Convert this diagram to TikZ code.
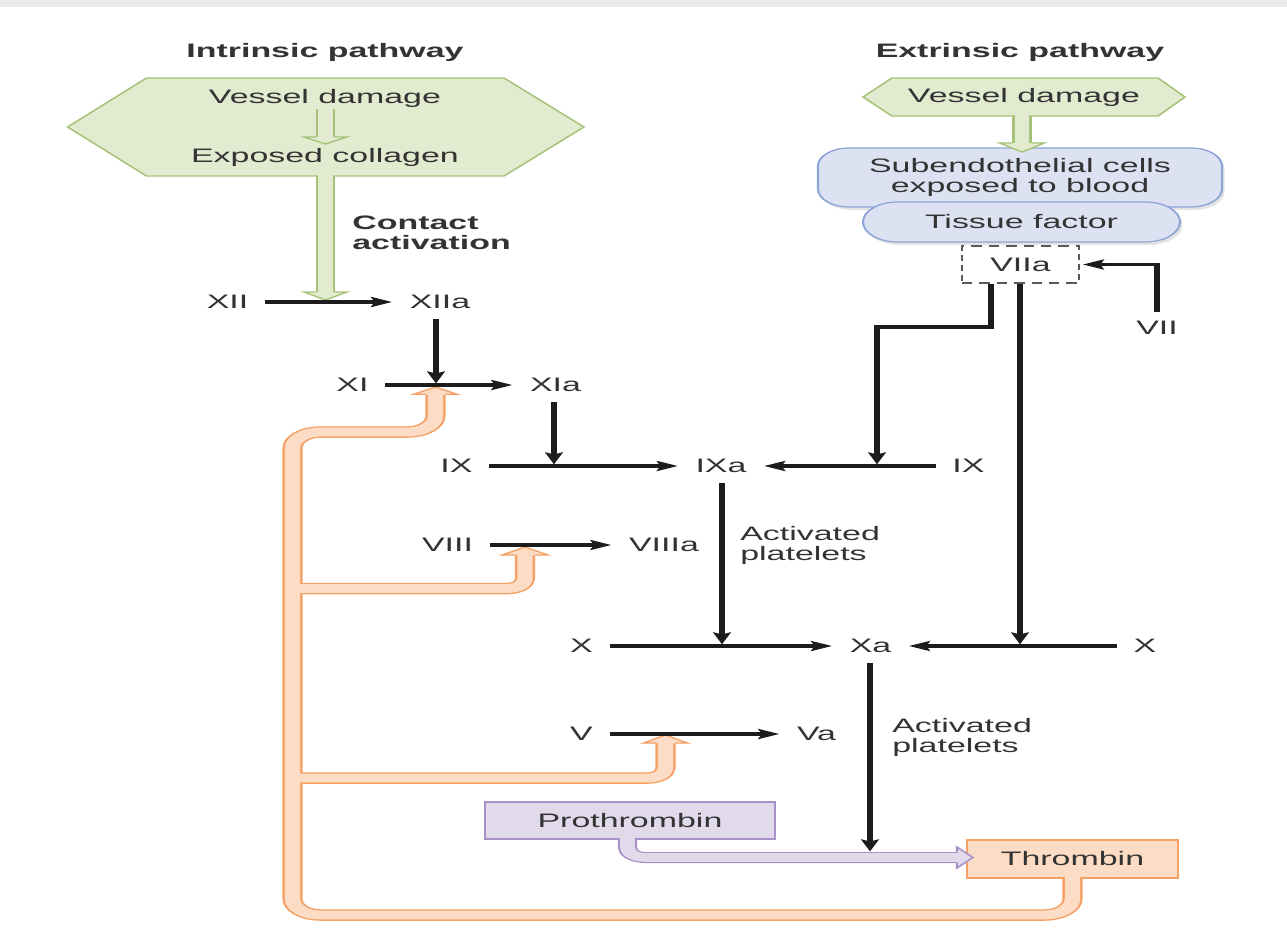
\documentclass[tikz,border=0pt]{standalone}
\usepackage{fontspec}
\setmainfont{Liberation Sans}
\usetikzlibrary{arrows.meta,shadows}
\definecolor{txt}{HTML}{333333}
\definecolor{ink}{HTML}{1C1C1C}
\definecolor{gfill}{HTML}{E2EAD0}
\definecolor{gline}{HTML}{A5C378}
\definecolor{bfill}{HTML}{DDE2F2}
\definecolor{bline}{HTML}{8CA5D7}
\definecolor{ofill}{HTML}{FCDCC4}
\definecolor{oline}{HTML}{F5A064}
\definecolor{pfill}{HTML}{E1DAEB}
\definecolor{pline}{HTML}{A891C8}
\newcommand\hollowhead[7]{%
  \fill[#6] ({#1-#4},#2) -- (#1,#3) -- ({#1+#4},#2) -- cycle;
  \draw[#7, line width=1.2pt, line join=miter] ({#1-#5},#2) -- ({#1-#4},#2) -- (#1,#3) -- ({#1+#4},#2) -- ({#1+#5},#2);}
\begin{document}
\begin{tikzpicture}[x=1pt,y=-1pt]
\useasboundingbox (0,0) rectangle (1287,944);
\fill[white] (0,0) rectangle (1287,944);
\fill[black!8] (0,0) rectangle (1287,7);
\begin{scope}[transform canvas={xscale=1.74}, x=0.574713pt, y=-1pt,
  lbl/.style={font=\fontsize{19.5}{20}\selectfont, text=txt, inner sep=0pt},
  ttl/.style={font=\fontsize{19.5}{20}\selectfont\bfseries, text=txt, inner sep=0pt},
  blk/.style={draw=ink, line width=3.2pt, line join=miter, -{Stealth[length=12pt,width=10pt,inset=2pt]}},
  rxn/.style={blk, shorten <=9.5pt, shorten >=10pt},
  down/.style={blk, shorten <=10pt},
  gband/.style={draw=gline, line width=11pt},
  gin/.style={draw=gfill, line width=8.6pt},
  oband/.style={draw=oline, line width=11.5pt},
  oin/.style={draw=ofill, line width=8.9pt},
  pband/.style={draw=pline, line width=11pt},
  pin/.style={draw=pfill, line width=8.6pt},
  bbox/.style={lbl, draw=bline, fill=bfill, line width=1.2pt, align=center,
    drop shadow={opacity=0.22, shadow xshift=1.5pt, shadow yshift=-3pt}},
  ]
% titles
\node[ttl, anchor=base] (tIn) at (325,58) {Intrinsic pathway};
\node[ttl, anchor=base] (tEx) at (1020,58) {Extrinsic pathway};

% intrinsic hexagon
\draw[draw=gline, fill=gfill, line width=1.2pt] (67.6,127) -- (146.5,78) -- (504,78) -- (584,127) -- (504,176) -- (146.5,176) -- cycle;
\node[lbl, anchor=base] (vdL) at (325,104) {Vessel damage};
\node[lbl, anchor=base] (ecol) at (325,163) {Exposed collagen};
% small green arrow
\draw[gband] (325.5,109) -- (325.5,137);
\hollowhead{325.5}{137}{144}{21.5}{9.6}{gfill}{gline}
\draw[gin] (325.5,109) -- (325.5,138.5);
% green stem
\draw[gband] (325.5,176) -- (325.5,292);
\hollowhead{325.5}{292}{300}{21.5}{9.6}{gfill}{gline}
\draw[gin] (325.5,172) -- (325.5,293.5);
\node[ttl, anchor=north west, align=left] (ca) at (352,216) {Contact\\activation};

% extrinsic
\draw[draw=gline, fill=gfill, line width=1.2pt] (863,97) -- (892,78) -- (1158,78) -- (1185,97) -- (1158,116) -- (892,116) -- cycle;
\node[lbl, anchor=base] (vdR) at (1024,103) {Vessel damage};
\node[bbox, minimum width=232.2pt, minimum height=59pt, rounded corners=18pt] (sub) at (1020,177.5) {Subendothelial cells\\exposed to blood};
\node[bbox, minimum width=182.2pt, minimum height=40pt, rounded corners=20pt] (tf) at (1021.5,222) {Tissue factor};
\draw[gband] (1022,116) -- (1022,143);
\hollowhead{1022}{143}{152}{22.5}{9.6}{gfill}{gline}
\draw[gin] (1022,112) -- (1022,144.5);
\node[lbl, draw=black!65, dash pattern=on 6pt off 4pt, line width=1.5pt, minimum width=67.2pt, minimum height=37pt] (VIIa) at (1020.5,264.5) {VIIa};
\node[lbl] (VII) at (1157,328) {VII};

% boxes at bottom
\node[lbl, draw=pline, fill=pfill, line width=1.2pt, minimum width=166.7pt, minimum height=37pt] (pro) at (630,820.5) {Prothrombin};
\node[lbl, draw=oline, fill=ofill, line width=1.2pt, minimum width=121.3pt, minimum height=38pt] (thr) at (1072.5,859) {Thrombin};

% orange feedback bands
\coordinate (oTr) at (1072.5,915);
\coordinate (oTl) at (292.5,915);
\coordinate (oTop) at (292.5,432);
\coordinate (oXI) at (435.5,432);
\coordinate (oXIh) at (435.5,394.3);
\coordinate (oB8) at (292.5,588.5);
\coordinate (oB8r) at (525,588.5);
\coordinate (oB8h) at (525,555);
\coordinate (oB5) at (292.5,778);
\coordinate (oB5r) at (665.5,778);
\coordinate (oB5h) at (665.5,743);
\draw[oband, rounded corners=16pt] ([yshift=1pt]thr.south) -- (oTr) -- (oTl) -- (oTop) -- (oXI) -- (oXIh);
\draw[oband, rounded corners=10pt] (oB8) -- (oB8r) -- (oB8h);
\draw[oband, rounded corners=10pt] (oB5) -- (oB5r) -- (oB5h);
\hollowhead{435.5}{394.3}{387}{22}{10}{ofill}{oline}
\hollowhead{525}{555}{547}{23}{10}{ofill}{oline}
\hollowhead{665.5}{743}{735}{22}{10}{ofill}{oline}
\draw[oin, rounded corners=16pt] ([yshift=3pt]thr.south) -- (oTr) -- (oTl) -- (oTop) -- (oXI) -- ([yshift=1.5pt]oXIh);
\draw[oin, rounded corners=10pt] (oB8) -- (oB8r) -- ([yshift=1.5pt]oB8h);
\draw[oin, rounded corners=10pt] (oB5) -- (oB5r) -- ([yshift=1.5pt]oB5h);

% purple conversion arrow
\coordinate (pS) at (627.5,838);
\coordinate (pC) at (627.5,857.5);
\coordinate (pH) at (957,857.5);
\draw[pband, rounded corners=10pt] (pS) -- (pC) -- (pH);
\fill[pfill] (957,847) -- (973,857.5) -- (957,868) -- cycle;
\draw[pline, line width=1.2pt, line join=miter] (957,852.2) -- (957,847) -- (973,857.5) -- (957,868) -- (957,862.8);
\draw[pin, rounded corners=10pt] ([yshift=2pt]pS) -- (pC) -- ([xshift=1pt]pH);

% factor labels
\node[lbl] (XII) at (227.5,302) {XII};
\node[lbl] (XIIa) at (440,302) {XIIa};
\node[lbl] (XI) at (352.5,385) {XI};
\node[lbl] (XIa) at (555.5,385) {XIa};
\node[lbl] (IXl) at (456.5,466) {IX};
\node[lbl] (IXa) at (721,466) {IXa};
\node[lbl] (IXr) at (968.5,466) {IX};
\node[lbl] (VIII) at (447.5,545) {VIII};
\node[lbl] (VIIIa) at (664,545) {VIIIa};
\node[lbl] (Xl) at (581.5,646) {X};
\node[lbl] (Xa) at (870.5,646) {Xa};
\node[lbl] (Xr) at (1145,646) {X};
\node[lbl] (V) at (581.5,734) {V};
\node[lbl] (Va) at (816.5,734) {Va};
\node[lbl, anchor=north west, align=left] (ap1) at (740,526.5) {Activated\\platelets};
\node[lbl, anchor=north west, align=left] (ap2) at (892,718) {Activated\\platelets};

% junction points
\coordinate (jXI) at (436,383.5);
\coordinate (jIXL) at (554,464.4);
\coordinate (jIXR) at (877,464.4);
\coordinate (jXL) at (722,644.4);
\coordinate (jXR) at (1020,644.4);
\coordinate (jThr) at (870,851.5);
\coordinate (v1) at (991,327);

% black reaction arrows
\draw[rxn] (XII) -- (XIIa);
\draw[rxn] (XI) -- (XIa);
\draw[rxn] (IXl) -- (IXa);
\draw[rxn] (IXr) -- (IXa);
\draw[rxn] (VIII) -- (VIIIa);
\draw[rxn] (Xl) -- (Xa);
\draw[rxn] (Xr) -- (Xa);
\draw[rxn] (V) -- (Va);
\draw[down] (XIIa.south -| jXI) -- (jXI);
\draw[down] (XIa.south -| jIXL) -- (jIXL);
\draw[down] (IXa.south -| jXL) -- (jXL);
\draw[down] (Xa.south -| jThr) -- (jThr);
\draw[blk] (VIIa.south -| v1) -- (v1) -- (v1 -| jIXR) -- (jIXR);
\draw[blk] (VIIa.south -| jXR) -- (jXR);
\draw[blk, shorten <=9pt, shorten >=1.5pt] (VII.north) -- (VII.north |- VIIa.east) -- (VIIa.east);
\end{scope}
\end{tikzpicture}
\end{document}
